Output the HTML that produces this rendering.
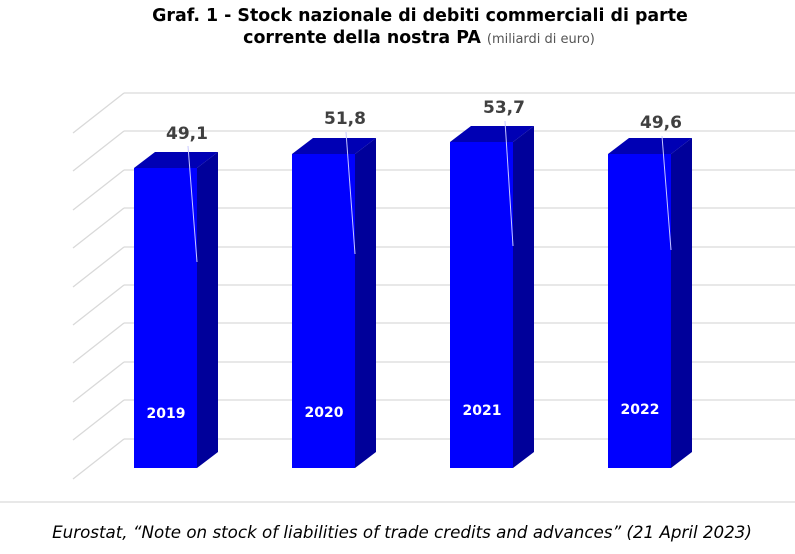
<!DOCTYPE html>
<html><head><meta charset="utf-8"><style>
body{margin:0;background:#fff;width:795px;height:550px;overflow:hidden;font-family:"DejaVu Sans","Liberation Sans",sans-serif}
</style></head><body>
<svg width="795" height="550" xmlns="http://www.w3.org/2000/svg">
<text x="420" y="21" text-anchor="middle" font-family="DejaVu Sans, sans-serif" font-weight="bold" font-size="17.4" fill="#000">Graf. 1 - Stock nazionale di debiti commerciali di parte</text>
<text x="419" y="43" text-anchor="middle" font-family="DejaVu Sans, sans-serif" font-size="17.4" fill="#000"><tspan font-weight="bold">corrente della nostra PA </tspan><tspan font-size="13" fill="#555">(miliardi di euro)</tspan></text>
<g stroke="#d9d9d9" stroke-width="1.3" fill="none">
<path d="M124 93H795M73 133L124 93"/>
<path d="M124 131H795M73 171L124 131"/>
<path d="M124 170H795M73 210L124 170"/>
<path d="M124 208H795M73 248L124 208"/>
<path d="M124 247H795M73 287L124 247"/>
<path d="M124 285H795M73 325L124 285"/>
<path d="M124 323H795M73 363L124 323"/>
<path d="M124 362H795M73 402L124 362"/>
<path d="M124 400H795M73 440L124 400"/>
<path d="M124 439H795M73 479L124 439"/>
<path d="M0 502H795"/>
</g>
<g>
<polygon points="134,168 155,152 218,152 197,168" fill="#0000b4"/>
<polygon points="197,168 218,152 218,452 197,468" fill="#00009a"/>
<rect x="134" y="168" width="63" height="300" fill="#0000ff"/>
<polygon points="292,154 313,138 376,138 355,154" fill="#0000b4"/>
<polygon points="355,154 376,138 376,452 355,468" fill="#00009a"/>
<rect x="292" y="154" width="63" height="314" fill="#0000ff"/>
<polygon points="450,142 471,126 534,126 513,142" fill="#0000b4"/>
<polygon points="513,142 534,126 534,452 513,468" fill="#00009a"/>
<rect x="450" y="142" width="63" height="326" fill="#0000ff"/>
<polygon points="608,154 629,138 692,138 671,154" fill="#0000b4"/>
<polygon points="671,154 692,138 692,452 671,468" fill="#00009a"/>
<rect x="608" y="154" width="63" height="314" fill="#0000ff"/>
</g>
<g stroke="#c8c8ff" stroke-width="1">
<path d="M188 146L197 262"/><path d="M346 132L355 254"/><path d="M505 121L513 246"/><path d="M662 136L671 250"/>
</g>
<g font-family="DejaVu Sans, sans-serif" font-weight="bold" font-size="17" fill="#404040" text-anchor="middle">
<text x="187" y="139">49,1</text><text x="345" y="124">51,8</text><text x="504" y="113">53,7</text><text x="661" y="128">49,6</text>
</g>
<g font-family="DejaVu Sans, sans-serif" font-weight="bold" font-size="14" fill="#fff" text-anchor="middle">
<text x="166" y="418">2019</text><text x="324" y="417">2020</text><text x="482" y="415">2021</text><text x="640" y="414">2022</text>
</g>
<text x="402" y="538" text-anchor="middle" font-family="DejaVu Sans, sans-serif" font-style="italic" font-size="16.7" fill="#000">Eurostat, “Note on stock of liabilities of trade credits and advances” (21 April 2023)</text>
</svg>
</body></html>
